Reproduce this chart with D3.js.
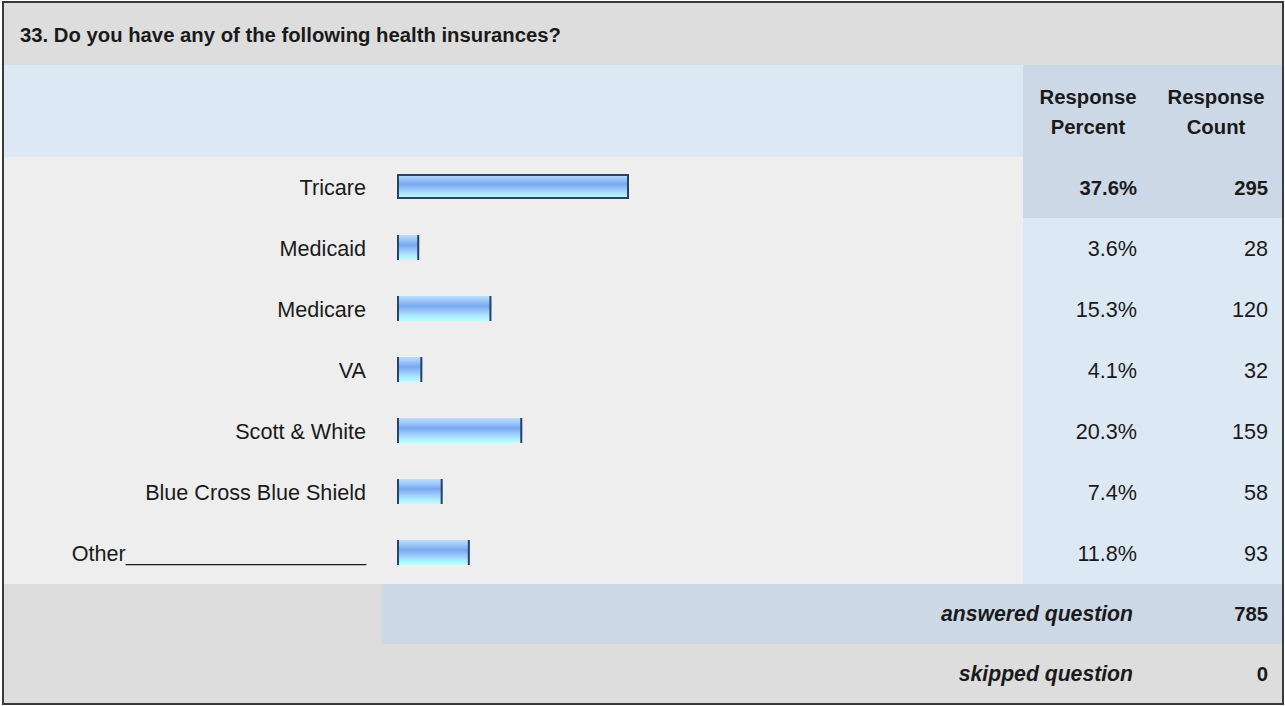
<!DOCTYPE html>
<html><head><meta charset="utf-8">
<script src="https://cdn.jsdelivr.net/npm/d3@7"></script>
<style>body{margin:0;background:#fff}svg{display:block;font-family:"Liberation Sans",Arial,sans-serif}</style>
</head><body><svg id="c" width="1285" height="706"></svg>
<script>
const title = "33. Do you have any of the following health insurances?";
const categories = ["Tricare","Medicaid","Medicare","VA","Scott & White","Blue Cross Blue Shield","Other____________________"];
const percents = [37.6, 3.6, 15.3, 4.1, 20.3, 7.4, 11.8];
const counts = [295, 28, 120, 32, 159, 58, 93];
const colHeaders = [["Response","Percent"],["Response","Count"]];
const summaryLabels = ["answered question","skipped question"];
const summaryValues = [785, 0];

const svg = d3.select("#c");
const L = 3, R = 1283, T = 2, B = 704;
const colX = 1023;
const headerH = 63, colHeadBottom = 157, rowH = 61;
const rowsBottom = colHeadBottom + rowH * categories.length;

const y = d3.scaleBand().domain(categories).range([colHeadBottom, rowsBottom]);
const x = d3.scaleLinear().domain([0, 100]).range([397, 1014]);
const maxIdx = percents.indexOf(d3.max(percents));
const txt = "#1a1a1a";

const defs = svg.append("defs");
const g = defs.append("linearGradient").attr("id","bar").attr("x1",0).attr("y1",0).attr("x2",0).attr("y2",1);
[[0,"#bcdcff"],[0.15,"#a6cdfb"],[0.4,"#78a8ee"],[0.6,"#98c6fa"],[0.85,"#b2f0ff"],[1,"#baffff"]]
  .forEach(([o,c])=>g.append("stop").attr("offset",o).attr("stop-color",c));

// backgrounds
svg.append("rect").attr("x",L).attr("y",T).attr("width",R-L).attr("height",headerH).attr("fill","#dddddd");
svg.append("rect").attr("x",L).attr("y",T+headerH).attr("width",R-L).attr("height",colHeadBottom-T-headerH).attr("fill","#dde8f5");
svg.append("rect").attr("x",colX).attr("y",T+headerH).attr("width",R-colX).attr("height",colHeadBottom-T-headerH).attr("fill","#cdd8e6");
svg.append("rect").attr("x",L).attr("y",colHeadBottom).attr("width",colX-L).attr("height",rowsBottom-colHeadBottom).attr("fill","#eeeeee");
svg.selectAll("rect.rc").data(categories).join("rect").attr("class","rc")
  .attr("x",colX).attr("y",d=>y(d)).attr("width",R-colX).attr("height",y.bandwidth())
  .attr("fill",(d,i)=>i===maxIdx?"#cdd8e6":"#dde8f5");
svg.append("rect").attr("x",L).attr("y",rowsBottom).attr("width",R-L).attr("height",B-rowsBottom).attr("fill","#dddddd");
svg.append("rect").attr("x",382).attr("y",rowsBottom).attr("width",R-382).attr("height",60).attr("fill","#cdd8e6");

// title
svg.append("text").attr("x",20).attr("y",42).attr("font-size",20.3).attr("font-weight","bold").attr("fill",txt).text(title);

// column headers
const colCenters = [1088, 1216];
colHeaders.forEach((lines,i)=>{
  lines.forEach((t,j)=>svg.append("text").attr("x",colCenters[i]).attr("y",104+j*30)
    .attr("text-anchor","middle").attr("font-size",20.3).attr("font-weight","bold").attr("fill",txt).text(t));
});

// labels
svg.selectAll("text.lab").data(categories).join("text").attr("class","lab")
  .attr("x",366).attr("y",d=>y(d)+y.bandwidth()/2+7).attr("text-anchor","end")
  .attr("font-size",21.6).attr("fill",txt).text(d=>d);

// bars
const bh = 25;
const by = d=>y(d)+y.bandwidth()/2-bh/2-1;
const bars = svg.selectAll("g.bar").data(categories).join("g").attr("class","bar");
bars.append("rect").attr("x",x(0)).attr("y",by)
  .attr("width",(d,i)=>x(percents[i])-x(0)).attr("height",bh).attr("fill","url(#bar)");
bars.append("line").attr("x1",x(0)+1).attr("x2",x(0)+1)
  .attr("y1",by).attr("y2",d=>by(d)+bh).attr("stroke","#2b4264").attr("stroke-width",2);
bars.append("line").attr("x1",(d,i)=>x(percents[i])-1).attr("x2",(d,i)=>x(percents[i])-1)
  .attr("y1",by).attr("y2",d=>by(d)+bh).attr("stroke","#2b4264").attr("stroke-width",2);
svg.append("rect").attr("x",x(0)+1).attr("y",by(categories[maxIdx])+1)
  .attr("width",x(percents[maxIdx])-x(0)-2).attr("height",bh-2).attr("fill","none")
  .attr("stroke","#2b4264").attr("stroke-width",2);

// values
svg.selectAll("text.pct").data(percents).join("text").attr("class","pct")
  .attr("x",1137).attr("y",(d,i)=>y(categories[i])+y.bandwidth()/2+7).attr("text-anchor","end")
  .attr("font-size",(d,i)=>i===maxIdx?20.3:21.6).attr("font-weight",(d,i)=>i===maxIdx?"bold":"normal").attr("fill",txt)
  .text(d=>d.toFixed(1)+"%");
svg.selectAll("text.cnt").data(counts).join("text").attr("class","cnt")
  .attr("x",1268).attr("y",(d,i)=>y(categories[i])+y.bandwidth()/2+7).attr("text-anchor","end")
  .attr("font-size",(d,i)=>i===maxIdx?20.3:21.6).attr("font-weight",(d,i)=>i===maxIdx?"bold":"normal").attr("fill",txt)
  .text(d=>d);

// summary
summaryLabels.forEach((t,i)=>{
  const cy = rowsBottom + 30 + i*60;
  svg.append("text").attr("x",1133).attr("y",cy+7).attr("text-anchor","end").attr("font-size",21.2)
    .attr("font-weight","bold").attr("font-style","italic").attr("fill",txt).text(t);
  svg.append("text").attr("x",1268).attr("y",cy+7).attr("text-anchor","end").attr("font-size",20.3)
    .attr("font-weight","bold").attr("fill",txt).text(summaryValues[i]);
});

// outer frame
svg.append("rect").attr("x",L).attr("y",T).attr("width",R-L).attr("height",B-T).attr("fill","none")
  .attr("stroke","#3a3a3a").attr("stroke-width",2);
</script></body></html>
